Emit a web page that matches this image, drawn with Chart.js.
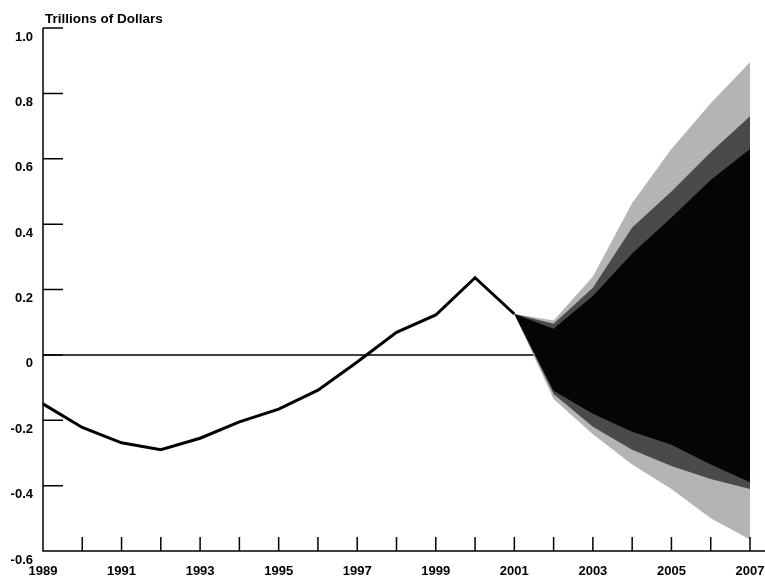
<!DOCTYPE html>
<html>
<head>
<meta charset="utf-8">
<script src="https://cdn.jsdelivr.net/npm/chart.js@4/dist/chart.umd.min.js"></script>
<style>
  html, body { margin: 0; padding: 0; background: #fff; }
</style>
</head>
<body>
<canvas id="budgetChart" width="765" height="579"></canvas>
<script>
// actual surplus / deficit, trillions of dollars
const actualYears = [1989, 1990, 1991, 1992, 1993, 1994, 1995, 1996, 1997, 1998, 1999, 2000, 2001];
const actualValues = [-0.150, -0.222, -0.269, -0.290, -0.255, -0.205, -0.166, -0.108, -0.022, 0.069, 0.122, 0.236, 0.125];

// projection fan, 2001-2007
const fanYears = [2001, 2002, 2003, 2004, 2005, 2006, 2007];
const outerHigh = [0.125, 0.105, 0.240, 0.465, 0.630, 0.770, 0.895];
const middleHigh = [0.125, 0.095, 0.205, 0.390, 0.500, 0.620, 0.730];
const coreHigh = [0.125, 0.080, 0.180, 0.310, 0.420, 0.535, 0.630];
const coreLow = [0.125, -0.110, -0.180, -0.235, -0.275, -0.335, -0.390];
const middleLow = [0.125, -0.120, -0.220, -0.290, -0.340, -0.380, -0.410];
const outerLow = [0.125, -0.135, -0.243, -0.335, -0.410, -0.500, -0.565];

const tickYears = [1989, 1990, 1991, 1992, 1993, 1994, 1995, 1996, 1997, 1998, 1999, 2000, 2001, 2002, 2003, 2004, 2005, 2006, 2007];
const zeroLine = [0, 0];

const FONT = "'Liberation Sans', Arial, sans-serif";

function pts(xs, ys) {
  return xs.map((x, i) => ({ x: x, y: ys[i] }));
}

function band(data, color, order, fill) {
  return {
    data: data,
    fill: fill,
    backgroundColor: color,
    borderColor: color,
    borderWidth: 0,
    pointRadius: 0,
    tension: 0,
    order: order,
  };
}

// inner tick marks, axis lines and the unit label
const axisMarks = {
  id: "axisMarks",
  afterDatasetsDraw(chart) {
    const { ctx, chartArea: a, scales } = chart;
    const x = scales.x;
    const y = scales.y;
    ctx.save();
    ctx.strokeStyle = "#000";
    ctx.lineWidth = 1.5;
    ctx.beginPath();
    ctx.moveTo(a.left, y.getPixelForValue(1.0));
    ctx.lineTo(a.left, a.bottom);
    ctx.lineTo(chart.width, a.bottom);
    y.ticks.forEach((t) => {
      const py = y.getPixelForValue(t.value);
      ctx.moveTo(a.left, py);
      ctx.lineTo(a.left + 20, py);
    });
    x.ticks.forEach((t) => {
      if (t.value === 1989) return;
      const px = x.getPixelForValue(t.value);
      ctx.moveTo(px, a.bottom);
      ctx.lineTo(px, a.bottom - 14);
    });
    ctx.stroke();

    ctx.font = "bold 13.5px " + FONT;
    ctx.fillStyle = "#000";
    ctx.textBaseline = "middle";
    ctx.fillText("Trillions of Dollars", a.left + 2, 19);
    ctx.restore();
  },
};

const ctx = document.getElementById("budgetChart").getContext("2d");
new Chart(ctx, {
  type: "line",
  data: {
    datasets: [
      {
        data: pts(actualYears, actualValues),
        borderColor: "#000",
        borderWidth: 3,
        pointRadius: 0,
        tension: 0,
        fill: false,
        order: 0,
      },
      {
        data: pts([1989, 2007], zeroLine),
        borderColor: "#000",
        borderWidth: 1.5,
        pointRadius: 0,
        fill: false,
        order: 20,
      },
      band(pts(fanYears, outerHigh), "#b4b4b4", 12, "+1"),
      band(pts(fanYears, outerLow), "#b4b4b4", 12, false),
      band(pts(fanYears, middleHigh), "#4a4a4a", 11, "+1"),
      band(pts(fanYears, middleLow), "#4a4a4a", 11, false),
      band(pts(fanYears, coreHigh), "#050505", 10, "+1"),
      band(pts(fanYears, coreLow), "#050505", 10, false),
    ],
  },
  options: {
    responsive: false,
    animation: false,
    layout: { padding: { top: 28, right: 15, left: 0, bottom: 0 } },
    plugins: {
      legend: { display: false },
      tooltip: { enabled: false },
      filler: { drawTime: "beforeDatasetDraw" },
    },
    scales: {
      x: {
        type: "linear",
        min: 1989,
        max: 2007,
        grid: { display: false, drawTicks: false },
        border: { display: false },
        afterBuildTicks: (scale) => {
          scale.ticks = tickYears.map((v) => ({ value: v }));
        },
        afterFit: (scale) => {
          scale.height = 28;
          scale.paddingLeft = 0;
          scale.paddingRight = 0;
        },
        ticks: {
          autoSkip: false,
          maxRotation: 0,
          padding: 13,
          color: "#000",
          font: { family: FONT, size: 13, weight: "bold" },
          callback: (value) => (value % 2 === 1 ? String(value) : ""),
        },
      },
      y: {
        min: -0.6,
        max: 1.0,
        grid: { display: false, drawTicks: false },
        border: { display: false },
        afterFit: (scale) => {
          scale.width = 43;
        },
        ticks: {
          stepSize: 0.2,
          padding: 10,
          labelOffset: 9,
          color: "#000",
          font: { family: FONT, size: 13, weight: "bold" },
          callback: (value) => (Math.abs(value) < 1e-9 ? "0" : value.toFixed(1)),
        },
      },
    },
  },
  plugins: [axisMarks],
});
</script>
</body>
</html>
